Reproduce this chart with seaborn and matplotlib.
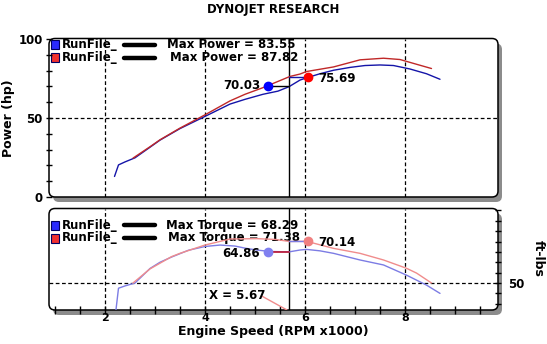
import numpy as np
import pandas as pd
import matplotlib
matplotlib.use("Agg")
import matplotlib.pyplot as plt
import seaborn as sns
from matplotlib.patches import FancyBboxPatch, Rectangle

# ---- run data (RPM x1000) ----
pw_rpm_blue = [2.19, 2.27, 2.40, 2.60, 2.90, 3.10, 3.50, 4.00, 4.50, 4.80, 5.16, 5.46,
               5.68, 5.90, 6.03, 6.30, 6.57, 6.90, 7.20, 7.50, 7.77, 8.10, 8.43, 8.70]
pw_blue = [13.0, 20.3, 22.2, 24.8, 31.5, 36.0, 43.3, 51.0, 58.8, 61.8, 65.0, 67.0,
           69.8, 74.0, 75.4, 78.0, 80.2, 82.0, 83.2, 83.55, 83.2, 81.0, 78.0, 74.5]

pw_rpm_red = [2.56, 2.90, 3.10, 3.50, 4.00, 4.50, 4.80, 5.16, 5.70, 5.90, 6.03, 6.57,
              7.10, 7.57, 7.90, 8.23, 8.53]
pw_red = [24.6, 31.8, 36.2, 43.6, 52.0, 60.8, 65.0, 69.2, 76.3, 77.8, 79.4, 82.3,
          86.8, 87.82, 87.0, 84.0, 81.3]

tq_rpm_blue = [2.19, 2.27, 2.40, 2.60, 2.90, 3.10, 3.33, 3.67, 4.00, 4.30, 4.60, 4.80,
               5.03, 5.30, 5.68, 5.90, 6.03, 6.30, 6.57, 7.10, 7.57, 8.03, 8.43, 8.70]
tq_blue = [31.0, 47.5, 48.6, 50.0, 57.0, 60.0, 62.5, 65.8, 67.6, 68.29, 67.8, 66.8,
           65.9, 65.2, 65.0, 65.9, 66.2, 65.5, 64.3, 61.1, 58.7, 53.8, 49.0, 45.0]

tq_rpm_red = [2.56, 2.90, 3.33, 3.50, 4.00, 4.50, 5.03, 5.40, 5.70, 6.03, 6.57, 7.10,
              7.57, 8.03, 8.23, 8.53]
tq_red = [50.0, 56.8, 62.7, 64.3, 68.3, 71.2, 71.38, 71.0, 70.0, 70.1, 66.7, 64.3,
          61.1, 57.1, 54.8, 50.0]

run_names = ["RunFile_", "RunFile_"]
max_power = [83.55, 87.82]
max_torque = [68.29, 71.38]

cursor_x = 5.67
pw_marks = [(5.25, 70.03), (6.05, 75.69)]
tq_marks = [(5.25, 64.86), (6.05, 70.14)]
trace_rpm = [5.13, 5.64]
trace_tq = [43.8, 37.0]

grid_rpm = [2, 4, 6, 8]

# ---- figure ----
W, H = 547, 344
sns.set_style("white")
plt.rcParams['font.family'] = ['DejaVu Sans']
plt.rcParams['font.weight'] = 'bold'
plt.rcParams['font.size'] = 8
for key in ('text.color', 'axes.labelcolor', 'xtick.color', 'ytick.color'):
    plt.rcParams[key] = 'black'

fig = plt.figure(figsize=(W / 100, H / 100), dpi=100)
fig.patch.set_facecolor('white')


def frac(l, t, r, b):
    return [l / W, 1 - b / H, (r - l) / W, (b - t) / H]


bg = fig.add_axes([0, 0, 1, 1], zorder=0)
bg.set_xlim(0, W)
bg.set_ylim(H, 0)
bg.axis('off')

panels = [(49, 38.5, 498, 197), (49, 208.5, 498, 310)]
for (l, t, r, b) in panels:
    bg.add_patch(FancyBboxPatch((l + 4, t + 5), r - l, b - t,
                                boxstyle="round,pad=0,rounding_size=6",
                                fc='#8c8c8c', ec='none'))
    bg.add_patch(FancyBboxPatch((l, t), r - l, b - t,
                                boxstyle="round,pad=0,rounding_size=6",
                                fc='white', ec='black', lw=1.1))

ax1 = fig.add_axes(frac(*panels[0]), zorder=1)
ax2 = fig.add_axes(frac(*panels[1]), zorder=1)
for ax in (ax1, ax2):
    ax.set_facecolor('none')
    for s in ax.spines.values():
        s.set_visible(False)
    ax.set_xlim(0.88, 9.86)
    for g in grid_rpm:
        ax.axvline(g, color='black', lw=0.9, ls=(0, (3, 2)), zorder=1)
    ax.axvline(cursor_x, color='black', lw=1.0, zorder=3)

ax1.set_ylim(0, 100.3)
ax2.set_ylim(37.0, 85.9)
ax1.axhline(50, color='black', lw=0.9, ls=(0, (3, 2)), zorder=1)
ax2.axhline(50, color='black', lw=0.9, ls=(0, (3, 2)), zorder=1)

BLUE_D, RED_D = '#1414a8', '#c02828'
BLUE_L, RED_L = '#7c7ce4', '#f08c8c'

# power curves
sns.lineplot(x=pw_rpm_blue, y=pw_blue, ax=ax1, color=BLUE_D, lw=1.0, sort=False, zorder=4)
sns.lineplot(x=pw_rpm_red, y=pw_red, ax=ax1, color=RED_D, lw=1.0, sort=False, zorder=4)
# torque curves
sns.lineplot(x=tq_rpm_blue, y=tq_blue, ax=ax2, color=BLUE_L, lw=1.0, sort=False, zorder=4)
sns.lineplot(x=tq_rpm_red, y=tq_red, ax=ax2, color=RED_L, lw=1.0, sort=False, zorder=4)
ax2.plot(trace_rpm, trace_tq, color=RED_L, lw=1.0, zorder=4)

# cursor readouts
ax1.plot([pw_marks[0][0], cursor_x], [pw_marks[0][1]] * 2, color='black', lw=1, zorder=5)
ax1.plot([cursor_x, pw_marks[1][0]], [pw_marks[1][1]] * 2, color=BLUE_D, lw=1, zorder=5)
ax2.plot([tq_marks[0][0], cursor_x], [tq_marks[0][1]] * 2, color='#c01830', lw=1.2, zorder=5)
ax2.plot([cursor_x, tq_marks[1][0]], [tq_marks[1][1]] * 2, color=BLUE_L, lw=1, zorder=5)

ax1.plot(*pw_marks[0], 'o', color='#0000ff', ms=6, zorder=6)
ax1.plot(*pw_marks[1], 'o', color='#ff0000', ms=6, zorder=6)
ax2.plot(*tq_marks[0], 'o', color='#8080f0', ms=6, zorder=6)
ax2.plot(*tq_marks[1], 'o', color='#f08080', ms=6, zorder=6)

ax1.text(5.11, pw_marks[0][1] + 0.8, f"{pw_marks[0][1]:.2f}", ha='right', va='center', fontsize=8.5, zorder=7)
ax1.text(6.27, pw_marks[1][1] - 0.5, f"{pw_marks[1][1]:.2f}", ha='left', va='center', fontsize=8.5, zorder=7)
ax2.text(5.09, tq_marks[0][1] - 0.5, f"{tq_marks[0][1]:.2f}", ha='right', va='center', fontsize=8.5, zorder=7)
ax2.text(6.26, tq_marks[1][1] - 0.5, f"{tq_marks[1][1]:.2f}", ha='left', va='center', fontsize=8.5, zorder=7)
ax2.text(4.07, 44.0, f"X = {cursor_x:.2f}", ha='left', va='center', fontsize=8.5, zorder=7)

# ticks
ax1.set_xticks([])
ax1.set_yticks([0, 50, 100])
ax1.set_yticks(np.arange(0, 101, 10), minor=True)
ax1.tick_params(axis='y', which='both', direction='inout', length=5, width=1,
                left=True, pad=2, labelsize=8.5)

ax2.yaxis.tick_right()
ax2.set_yticks([50])
ax2.set_yticks(np.arange(40, 86, 5), minor=True)
ax2.tick_params(axis='y', which='both', direction='inout', length=5, width=1,
                right=True, left=False, pad=5, labelsize=8.5)
ax2.set_xticks(grid_rpm)
ax2.set_xticks(np.arange(1, 10, 0.5), minor=True)
ax2.tick_params(axis='x', which='both', direction='inout', length=6, width=1,
                bottom=True, pad=-1, labelsize=8)
ax1.set_xlabel('')
ax2.set_xlabel('')

# legends
legend_rows = [
    (44.5, 167, f"Max Power = {max_power[0]:.2f}", '#2a2aff'),
    (57.8, 170, f"Max Power = {max_power[1]:.2f}", '#f03030'),
    (225.0, 166, f"Max Torque = {max_torque[0]:.2f}", '#2a2aff'),
    (238.0, 168, f"Max Torque = {max_torque[1]:.2f}", '#f03030'),
]
for i, (y, xt, txt, col) in enumerate(legend_rows):
    bg.add_patch(Rectangle((50.5, y - 4.5), 8, 9, fc=col, ec='#000060', lw=0.8, zorder=5))
    bg.text(62, y, run_names[i % 2], ha='left', va='center', fontsize=8.5, zorder=5)
    bg.plot([124, 155], [y, y], color='black', lw=3.2, solid_capstyle='round', zorder=5)
    bg.text(xt, y, txt, ha='left', va='center', fontsize=8.5, zorder=5)

bg.text(273.5, 10, "DYNOJET RESEARCH", ha='center', va='center', fontsize=8.5)
bg.text(8.5, 118, "Power (hp)", ha='center', va='center', rotation=90, fontsize=9)
bg.text(538, 258, "ft-lbs", ha='center', va='center', rotation=-90, fontsize=9)
bg.text(273.5, 331.5, "Engine Speed (RPM x1000)", ha='center', va='center', fontsize=9)

fig.savefig("out.png", dpi=100, facecolor='white')
